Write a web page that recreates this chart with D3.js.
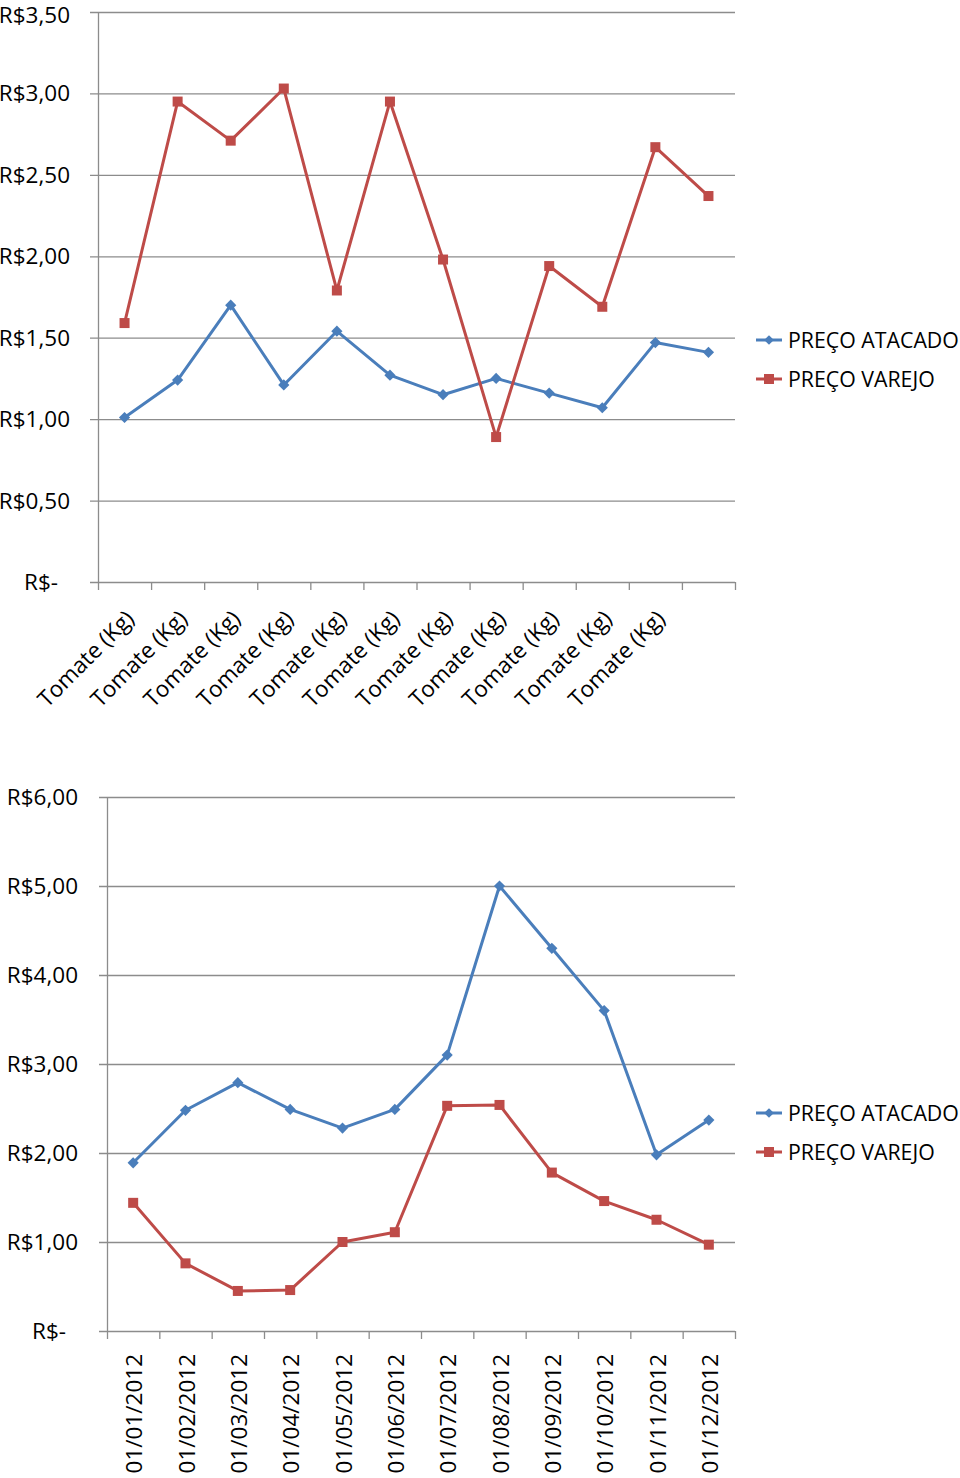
<!DOCTYPE html>
<html><head><meta charset="utf-8">
<script src="https://cdn.jsdelivr.net/npm/d3@7"></script>
<style>body{margin:0;background:#fff}svg{display:block}text{font-family:"Open Sans",sans-serif;fill:#000}</style>
</head><body>
<svg id="c" width="960" height="1478"></svg>
<script>
// ---- Data ----
const topCategories = ["Tomate (Kg)","Tomate (Kg)","Tomate (Kg)","Tomate (Kg)","Tomate (Kg)","Tomate (Kg)","Tomate (Kg)","Tomate (Kg)","Tomate (Kg)","Tomate (Kg)","Tomate (Kg)","Tomate (Kg)"];
const topAtacado = [1.01,1.24,1.70,1.21,1.54,1.27,1.15,1.25,1.16,1.07,1.47,1.41];
const topVarejo  = [1.59,2.95,2.71,3.03,1.79,2.95,1.98,0.89,1.94,1.69,2.67,2.37];
const topTicks = [0,0.5,1,1.5,2,2.5,3,3.5];
const topTickLabels = ["R$-","R$0,50","R$1,00","R$1,50","R$2,00","R$2,50","R$3,00","R$3,50"];

const botCategories = ["01/01/2012","01/02/2012","01/03/2012","01/04/2012","01/05/2012","01/06/2012","01/07/2012","01/08/2012","01/09/2012","01/10/2012","01/11/2012","01/12/2012"];
const botAtacado = [1.89,2.48,2.79,2.49,2.28,2.49,3.10,5.00,4.30,3.60,1.98,2.37];
const botVarejo  = [1.44,0.76,0.45,0.46,1.00,1.11,2.53,2.54,1.78,1.46,1.25,0.97];
const botTicks = [0,1,2,3,4,5,6];
const botTickLabels = ["R$-","R$1,00","R$2,00","R$3,00","R$4,00","R$5,00","R$6,00"];

const seriesNames = ["PREÇO ATACADO","PREÇO VAREJO"];
const colors = ["#4a7ebb","#be4b48"];

const svg = d3.select("#c");
const FS = 22.5;

function chart(cfg){
  const g = svg.append("g");
  const x = d3.scaleBand().domain(d3.range(cfg.cats.length)).range([cfg.x0,cfg.x1]);
  const y = d3.scaleLinear().domain([0,cfg.max]).range([cfg.y0,cfg.y1]);
  // gridlines
  g.selectAll(".grid").data(cfg.ticks).join("line")
    .attr("x1",cfg.x0-8).attr("x2",cfg.x1)
    .attr("y1",d=>y(d)+0.5).attr("y2",d=>y(d)+0.5)
    .attr("stroke","#8c8c8c").attr("stroke-width",1.3);
  // y axis line
  g.append("line").attr("x1",cfg.x0+0.5).attr("x2",cfg.x0+0.5).attr("y1",y(cfg.max)).attr("y2",cfg.y0)
    .attr("stroke","#8c8c8c").attr("stroke-width",1.3);
  // x ticks
  const bounds = d3.range(cfg.cats.length+1).map(i=> i<cfg.cats.length ? x(i) : cfg.x1);
  g.selectAll(".xt").data(bounds).join("line")
    .attr("x1",d=>d+0.5).attr("x2",d=>d+0.5).attr("y1",cfg.y0).attr("y2",cfg.y0+8)
    .attr("stroke","#8c8c8c").attr("stroke-width",1.3);
  // y labels
  g.selectAll(".yl").data(cfg.ticks).join("text")
    .attr("x",(d,i)=> d===0 ? cfg.labX-12 : cfg.labX)
    .attr("y",d=>Math.max(y(d)+8, 23))
    .attr("text-anchor","end").attr("font-size",FS)
    .text((d,i)=>cfg.tickLabels[i]);
  // x labels
  const cx = i => x(i)+x.bandwidth()/2;
  g.selectAll(".xl").data(cfg.cats.map((c,i)=>({c,i})).filter(d=>cfg.showLabel(d.i))).join("text")
    .attr("transform",d=> cfg.rot===-45
        ? `translate(${cx(d.i)+11},${cfg.y0+38}) rotate(-45)`
        : `translate(${cx(d.i)+9},${cfg.y0+23}) rotate(-90)`)
    .attr("text-anchor","end").attr("font-size",FS)
    .text(d=>d.c);
  // series
  const line = d3.line().x((d,i)=>cx(i)).y(d=>y(d));
  [cfg.a,cfg.v].forEach((vals,k)=>{
    g.append("path").attr("d",line(vals)).attr("fill","none")
      .attr("stroke",colors[k]).attr("stroke-width",3).attr("stroke-linejoin","round");
    if(k===0){
      g.selectAll(".m0").data(vals).join("path")
        .attr("d",d3.symbol(d3.symbolDiamond2,80)())
        .attr("transform",(d,i)=>`translate(${cx(i)},${y(d)})`)
        .attr("fill",colors[0]);
    } else {
      g.selectAll(".m1").data(vals).join("rect")
        .attr("x",(d,i)=>cx(i)-5).attr("y",d=>y(d)-5).attr("width",10).attr("height",10)
        .attr("fill",colors[1]);
    }
  });
  // legend
  seriesNames.forEach((n,k)=>{
    const ly = cfg.legY + k*39;
    g.append("line").attr("x1",756).attr("x2",782).attr("y1",ly).attr("y2",ly)
      .attr("stroke",colors[k]).attr("stroke-width",3);
    if(k===0) g.append("path").attr("d",d3.symbol(d3.symbolDiamond2,60)()).attr("transform",`translate(769,${ly})`).attr("fill",colors[0]);
    else g.append("rect").attr("x",764).attr("y",ly-5).attr("width",10).attr("height",10).attr("fill",colors[1]);
    g.append("text").attr("x",788).attr("y",ly+8).attr("font-size",21.3).text(n);
  });
}

chart({cats:topCategories,a:topAtacado,v:topVarejo,ticks:topTicks,tickLabels:topTickLabels,max:3.5,
  x0:98,x1:735,y0:582,y1:12,labX:70,rot:-45,legY:340,showLabel:i=>i<topCategories.length-1});
chart({cats:botCategories,a:botAtacado,v:botVarejo,ticks:botTicks,tickLabels:botTickLabels,max:6,
  x0:107,x1:735,y0:1331,y1:797,labX:78,rot:-90,legY:1113,showLabel:i=>true});
</script>
</body></html>
